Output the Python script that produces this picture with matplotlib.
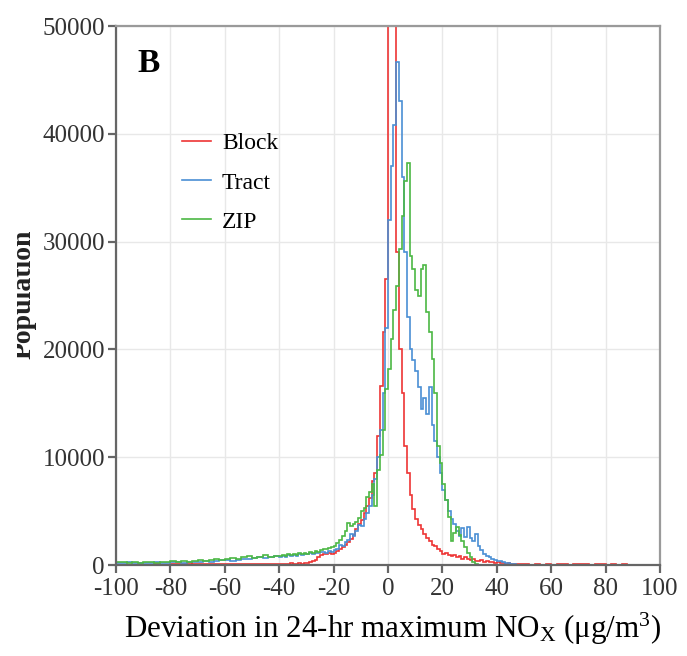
import numpy as np
import matplotlib.pyplot as plt
from matplotlib.patches import Rectangle

plt.rcParams['font.family'] = ['Liberation Serif', 'DejaVu Serif']
plt.rcParams['mathtext.fontset'] = 'custom'
plt.rcParams['mathtext.rm'] = 'Liberation Serif'
plt.rcParams['mathtext.it'] = 'Liberation Serif:italic'
plt.rcParams['axes.unicode_minus'] = False

# bin edges: 2-wide bins in the far tails, 1-wide in the middle
edges = np.r_[np.arange(-100, -40, 2), np.arange(-40, 50, 1), np.arange(50, 91, 2)]

# Block
block_left = [20, 30, 0, 40, 20, 0, 30, 50, 0, 40, 80, 120, 60, 150, 90,
              130, 100, 70, 120, 90, 140, 60, 100, 80, 110, 90, 70, 120, 100, 110]
block_mid = [120, 100, 130, 110, 150, 120, 140, 160, 130, 180,          # -40..-31
             200, 260, 380, 460, 700, 950, 1000, 1050, 1100, 1000,      # -30..-21
             1150, 1300, 1500, 1700, 1900, 2100, 2400, 2800, 3300, 3800,  # -20..-11
             4200, 4800, 5500, 6200, 7800, 8500, 12000, 16600, 21600, 26500,  # -10..-1
             60000, 60000, 60000, 29000, 20000, 16000, 11000, 8500, 6500, 5200,  # 0..9
             4300, 3700, 3300, 2900, 2500, 2200, 1900, 1800, 1500, 1300,  # 10..19
             1000, 1100, 900, 800, 950, 700, 800, 600, 750, 550,        # 20..29
             500, 600, 400, 350, 450, 300, 350, 250, 300, 200,          # 30..39
             250, 150, 200, 100, 150, 100, 80, 100, 60, 90]             # 40..49
block_right = [60, 0, 80, 40, 100, 0, 70, 90, 0, 60, 100, 50, 0, 80, 60, 0, 90, 0, 80, 0]

# Tract
tract_left = [200, 150, 250, 180, 220, 150, 200, 260, 180, 230, 250, 300, 220, 280, 320,
              260, 350, 300, 380, 420, 450, 400, 500, 600, 550, 650, 700, 620, 750, 800]
tract_mid = [700, 850, 780, 900, 820, 950, 880, 1000, 920, 1050,
             1000, 1100, 1050, 1150, 1100, 1200, 1250, 1150, 1300, 1250,
             1400, 1500, 1900, 1800, 2100, 2300, 2900, 2700, 3200, 3700,
             3600, 4300, 4800, 5500, 6500, 8000, 10000, 12500, 16000, 22000,
             32000, 37000, 40800, 46700, 43000, 36000, 29000, 23000, 20000, 19000,
             18000, 16500, 14500, 15500, 14000, 16500, 13000, 11500, 10000, 8500,
             7000, 6000, 5000, 4300, 3800, 3200, 2700, 3400, 2600, 3500,
             2500, 2200, 2900, 1800, 1400, 1000, 800, 700, 600, 500,
             400, 400, 250, 200, 150, 100, 60, 40, 20, 10]
tract_right = [10, 0, 0, 0, 0, 0, 0, 0, 0, 0, 0, 0, 0, 0, 0, 0, 0, 0, 0, 0]

# ZIP
zip_left = [250, 300, 200, 280, 220, 300, 260, 200, 300, 250, 350, 280, 400, 320, 380,
            450, 400, 500, 550, 480, 600, 650, 550, 700, 800, 650, 750, 900, 700, 850]
zip_mid = [800, 950, 850, 1000, 900, 1050, 950, 1100, 1000, 1150,
           1050, 1200, 1150, 1300, 1250, 1400, 1500, 1450, 1600, 1700,
           1800, 2000, 2300, 2700, 3200, 3900, 3600, 3800, 4000, 4400,
           5000, 5300, 6300, 6800, 7500, 5500, 8800, 10200, 12500, 16300,
           18200, 21000, 23700, 25900, 29300, 32400, 35600, 37300, 28700, 27500,
           25500, 25000, 27500, 27800, 23500, 21600, 19100, 16000, 11000, 9500,
           7500, 6000, 4500, 2200, 3000, 3500, 2800, 2200, 1700, 1100,
           700, 300, 100, 0, 0, 0, 0, 0, 0, 0,
           0, 0, 0, 0, 0, 0, 0, 0, 0, 0]
zip_right = [0] * 20

block = block_left + block_mid + block_right
tract = tract_left + tract_mid + tract_right
zipc = zip_left + zip_mid + zip_right

fig = plt.figure(figsize=(6.87, 6.56), dpi=100)
ax = fig.add_axes([0.1689, 0.1387, 0.7918, 0.8216])

ax.stairs(block, edges, color='#ee3535', lw=1.2, label='Block')
ax.stairs(tract, edges, color='#4a8fd4', lw=1.2, label='Tract')
ax.stairs(zipc, edges, color='#4cb844', lw=1.2, label='ZIP')

ax.set_xlim(-100, 100)
ax.set_ylim(0, 50000)
ax.set_xticks(np.arange(-100, 101, 20))
ax.set_yticks(np.arange(0, 50001, 10000))
ax.grid(True, color='#e8e8e8', lw=1)
ax.set_axisbelow(True)

for s in ['left', 'bottom']:
    ax.spines[s].set_color('#666666')
    ax.spines[s].set_linewidth(1.6)
for s in ['top', 'right']:
    ax.spines[s].set_color('#9a9a9a')
    ax.spines[s].set_linewidth(1.6)

ax.tick_params(axis='both', labelsize=18, colors='#666666', labelcolor='#333333',
               length=6, width=1.6, direction='out')
ax.tick_params(axis='y', pad=2)
ax.tick_params(axis='x', pad=3)

ax.set_xlabel('Deviation in 24-hr maximum NO$_\\mathrm{X}$ (μg/m$^3$)', fontsize=22.3,
              color='black', labelpad=8)
ax.xaxis.label.set_x(0.508)

fig.text(0.053, 0.552, 'Population', rotation=90, fontsize=20, fontweight='bold',
         ha='right', va='center', color='#222222')
# the left edge of the original image is cut off
fig.add_artist(Rectangle((0, 0), 17 / 687, 1, transform=fig.transFigure,
                         facecolor='white', edgecolor='none', zorder=10))

ax.text(0.059, 0.93, 'B', transform=ax.transAxes, fontsize=24, fontweight='bold',
        ha='center', va='center')

ax.legend(loc='upper left', bbox_to_anchor=(0.121, 0.802), frameon=False, fontsize=17,
          handlelength=1.25, handletextpad=0.45, labelspacing=0.75, borderpad=0,
          borderaxespad=0)

fig.savefig('out.png', dpi=100)
